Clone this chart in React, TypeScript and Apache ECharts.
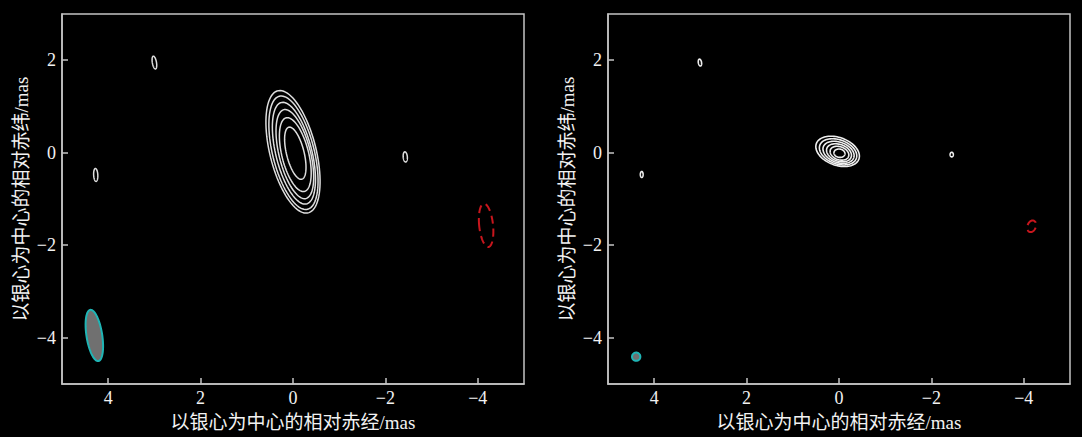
import React, { useEffect, useRef } from "react";
import * as echarts from "echarts";

// Tick values (mas)
const xTickValues = [4, 2, 0, -2, -4];
const yTickValues = [2, 0, -2, -4];

const xAxisName = "以银心为中心的相对赤经/mas";
const yAxisName = "以银心为中心的相对赤纬/mas";

// Each ellipse: [relative RA, relative Dec, semi-axis a, semi-axis b, tilt (deg)]
// Left panel
const leftContours = [
  [0.0, 0.02, 0.5, 1.36, 14],
  [-0.01, 0.0, 0.45, 1.26, 14],
  [-0.02, -0.01, 0.39, 1.13, 14],
  [-0.04, -0.03, 0.34, 0.99, 14],
  [-0.05, -0.04, 0.29, 0.82, 14],
  [-0.05, -0.01, 0.19, 0.58, 14],
  [3.0, 1.95, 0.045, 0.14, 10],
  [4.27, -0.48, 0.045, 0.14, 3],
  [-2.43, -0.09, 0.045, 0.11, 5],
];
const leftNegative = [[-4.18, -1.57, 0.15, 0.47, 6]];
const leftBeam = [[4.3, -3.95, 0.17, 0.56, 9]];

// Right panel
const rightContours = [
  [0.03, 0.03, 0.49, 0.3, -20],
  [0.02, 0.02, 0.42, 0.26, -20],
  [0.01, 0.01, 0.35, 0.22, -20],
  [0.0, 0.0, 0.28, 0.18, -20],
  [-0.01, -0.01, 0.21, 0.14, -20],
  [-0.01, -0.01, 0.12, 0.09, -10],
  [3.01, 1.95, 0.035, 0.075, 10],
  [4.27, -0.47, 0.03, 0.065, 0],
  [-2.44, -0.04, 0.035, 0.05, 0],
];
const rightNegative = [[-4.17, -1.59, 0.09, 0.13, -20]];
const rightBeam = [[4.39, -4.41, 0.09, 0.09, 0]];

const fmt = (v: number) => (v < 0 ? "\u2212" + Math.abs(v) : String(v));

function ellipseRenderer(style: any) {
  return (params: any, api: any) => {
    const cx = api.value(0);
    const cy = api.value(1);
    const a = api.value(2);
    const b = api.value(3);
    const th = (api.value(4) * Math.PI) / 180;
    const pts: number[][] = [];
    const N = 90;
    for (let i = 0; i < N; i++) {
      const t = (2 * Math.PI * i) / N;
      const u = a * Math.cos(t);
      const v = b * Math.sin(t);
      const dx = u * Math.cos(th) + v * Math.sin(th);
      const dy = -u * Math.sin(th) + v * Math.cos(th);
      pts.push(api.coord([cx + dx, cy + dy]));
    }
    return { type: "polygon", shape: { points: pts }, style };
  };
}

const frameColor = "#c4c4c4";
const labelFont = "'Liberation Serif', 'Times New Roman', serif";
const nameFont = "'Liberation Serif', 'Noto Sans CJK SC', serif";

function makeXAxis(gridIndex: number) {
  return {
    type: "value",
    gridIndex,
    min: -5,
    max: 5,
    inverse: true,
    name: xAxisName,
    nameLocation: "middle",
    nameGap: 29,
    nameTextStyle: { color: "#f2f2f2", fontSize: 19, fontFamily: nameFont },
    axisLine: { show: true, onZero: false, lineStyle: { color: frameColor, width: 1.5 } },
    axisTick: { show: true, inside: true, length: 6, customValues: xTickValues, lineStyle: { color: frameColor, width: 1.5 } },
    axisLabel: { show: true, margin: 5, customValues: xTickValues, formatter: fmt, color: "#f2f2f2", fontSize: 18, fontFamily: labelFont },
    splitLine: { show: false },
  };
}

function makeYAxis(gridIndex: number) {
  return {
    type: "value",
    gridIndex,
    min: -5,
    max: 3,
    name: yAxisName,
    nameLocation: "middle",
    nameGap: 31,
    nameTextStyle: { color: "#f2f2f2", fontSize: 19, fontFamily: nameFont },
    axisLine: { show: true, onZero: false, lineStyle: { color: frameColor, width: 1.5 } },
    axisTick: { show: true, inside: true, length: 6, customValues: yTickValues, lineStyle: { color: frameColor, width: 1.5 } },
    axisLabel: { show: true, margin: 6, customValues: yTickValues, formatter: fmt, color: "#f2f2f2", fontSize: 18, fontFamily: labelFont },
    splitLine: { show: false },
  };
}

const contourStyle = { fill: "none", stroke: "#dedede", lineWidth: 1.5 };
const negativeStyle = { fill: "none", stroke: "#c8161d", lineWidth: 2, lineDash: [8, 5] };
const negativeStyleSmall = { fill: "none", stroke: "#c8161d", lineWidth: 2, lineDash: [11, 5] };
const beamStyle = { fill: "#707070", stroke: "#1fb5b5", lineWidth: 2 };

function ellipseSeries(data: number[][], idx: number, style: any) {
  return {
    type: "custom",
    coordinateSystem: "cartesian2d",
    xAxisIndex: idx,
    yAxisIndex: idx,
    data,
    encode: { x: 0, y: 1 },
    silent: true,
    renderItem: ellipseRenderer(style),
  };
}

export default function App() {
  const ref = useRef<HTMLDivElement>(null);
  useEffect(() => {
    document.body.style.margin = "0";
    document.body.style.background = "#000";
    if (!ref.current) return;
    const chart = echarts.init(ref.current, undefined, { renderer: "svg" });
    chart.setOption({
      animation: false,
      backgroundColor: "#000",
      grid: [
        { left: 62, top: 14, width: 462, height: 370, show: true, borderColor: frameColor, borderWidth: 1.5, backgroundColor: "#000" },
        { left: 608, top: 14, width: 462, height: 370, show: true, borderColor: frameColor, borderWidth: 1.5, backgroundColor: "#000" },
      ],
      xAxis: [makeXAxis(0), makeXAxis(1)],
      yAxis: [makeYAxis(0), makeYAxis(1)],
      series: [
        ellipseSeries(leftContours, 0, contourStyle),
        ellipseSeries(leftNegative, 0, negativeStyle),
        ellipseSeries(leftBeam, 0, beamStyle),
        ellipseSeries(rightContours, 1, { ...contourStyle, lineWidth: 1.6, stroke: "#eeeeee" }),
        ellipseSeries(rightNegative, 1, negativeStyleSmall),
        ellipseSeries(rightBeam, 1, beamStyle),
      ],
    });
    return () => chart.dispose();
  }, []);
  return <div ref={ref} style={{ width: 1082, height: 437, background: "#000" }} />;
}
